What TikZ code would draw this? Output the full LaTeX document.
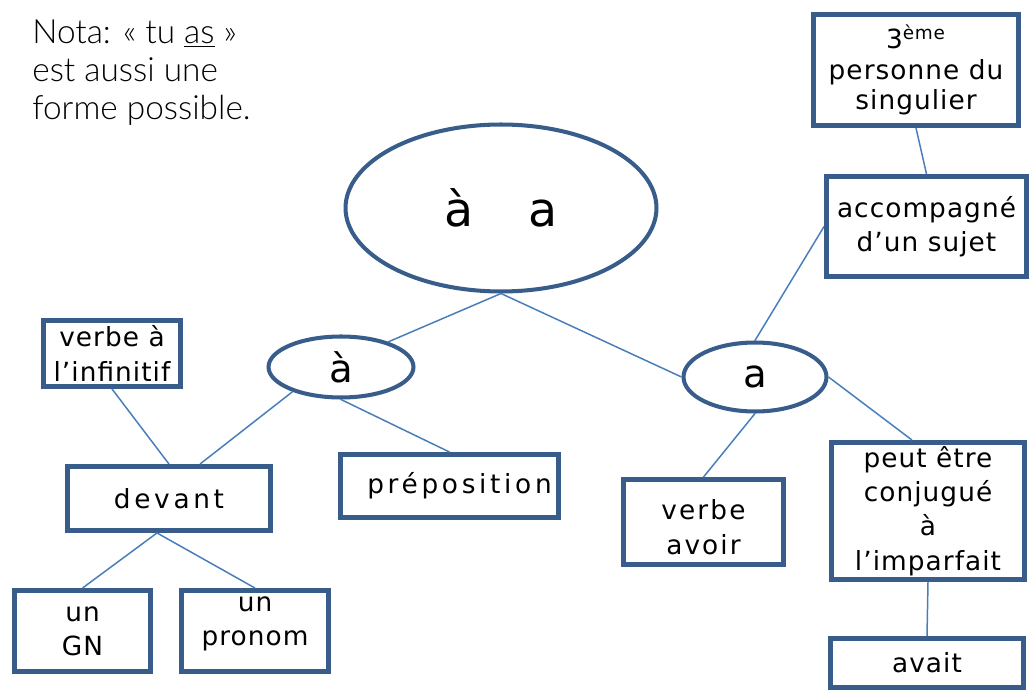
\documentclass[tikz,border=0pt]{standalone}
\usepackage{fontspec}
\setmainfont{DejaVu Sans}[LetterSpace=4]
\newfontfamily\notafont{Lato Light}
\usetikzlibrary{shapes.geometric,calc}
\definecolor{boxc}{RGB}{56,93,138}
\definecolor{linec}{RGB}{74,126,187}
\begin{document}
\begin{tikzpicture}[x=0.02cm,y=-0.02cm,
  txt/.style={align=center,font=\fontsize{15}{19.5}\selectfont},
  box/.style={draw=boxc,line width=2.8pt,fill=white,rectangle,inner sep=0pt,txt},
  oval/.style={draw=boxc,line width=2.3pt,fill=white,ellipse,inner sep=0pt},
  conn/.style={draw=linec,line width=0.85pt}]
\useasboundingbox (0,0) rectangle (1031,692);
% ellipses
\node[oval,minimum width=6.22cm,minimum height=3.34cm,font=\fontsize{27}{30}\selectfont] (big) at (501,208) {à\hspace{1.16em}a\hspace{0.2em}};
\node[oval,minimum width=2.90cm,minimum height=1.22cm,font=\fontsize{22}{26}\selectfont] (asm) at (341,367) {à};
\node[oval,minimum width=2.86cm,minimum height=1.38cm,font=\fontsize{22}{26}\selectfont] (ael) at (755,377) {a};
% boxes
\node[box,minimum width=4.10cm,minimum height=2.22cm,font=\fontsize{15}{17.5}\selectfont] (tro) at (916,70) {3\textsuperscript{ème}\\personne du\\singulier};
\node[box,minimum width=4.00cm,minimum height=2.00cm] (acc) at (926.5,226.5) {accompagné\\d’un sujet};
\node[box,minimum width=2.74cm,minimum height=1.32cm] (inf) at (112,353.5) {verbe à\\l’infinitif};
\node[box,minimum width=4.06cm,minimum height=1.28cm] (dev) at (169,498.5) {\addfontfeatures{LetterSpace=14}devant};
\node[box,minimum width=4.36cm,minimum height=1.26cm] (prep) at (449.5,486) {\hspace{0.4cm}\addfontfeatures{LetterSpace=14}préposition};
\node[box,minimum width=3.20cm,minimum height=1.70cm,
  label={[txt,inner sep=0pt,yshift=-3]center:{\addfontfeatures{LetterSpace=8}verbe\\\addfontfeatures{LetterSpace=8}avoir}}] (va) at (703.5,522) {};
\node[box,minimum width=3.86cm,minimum height=2.74cm] (peut) at (928,511) {peut être\\conjugué\\à\\l’imparfait};
\node[box,minimum width=3.86cm,minimum height=0.98cm] (avait) at (927,663) {avait};
\node[box,minimum width=2.72cm,minimum height=1.62cm] (gn) at (82.5,631) {un\\GN};
\node[box,minimum width=2.94cm,minimum height=1.62cm,
  label={[txt,inner sep=0pt,yshift=4]center:{un\\pronom}}] (pro) at (255,631) {};
% note
\node[anchor=north west,align=left,inner sep=0pt,font=\notafont\fontsize{19}{21.5}\selectfont] (nota) at (32,20)
  {Nota: « tu \underline{as} »\\est aussi une\\forme possible.};
% connectors
\draw[conn] (big.south) -- (asm.28);
\draw[conn] (big.south) -- (ael.west);
\draw[conn] (ael.north) -- (acc.west);
\draw[conn] (tro.south) -- (acc.north);
\draw[conn] (ael.east) -- ($(peut.north)+(-16,0)$);
\draw[conn] (ael.south) -- (va.north);
\draw[conn] (peut.south) -- (avait.north);
\draw[conn] (asm.south) -- (prep.north);
\draw[conn] (asm.207) -- ($(dev.north)+(31,0)$);
\draw[conn] (inf.south) -- (dev.north);
\draw[conn] ($(dev.south)+(-12,0)$) -- (gn.north);
\draw[conn] ($(dev.south)+(-12,0)$) -- (pro.north);
\end{tikzpicture}
\end{document}
